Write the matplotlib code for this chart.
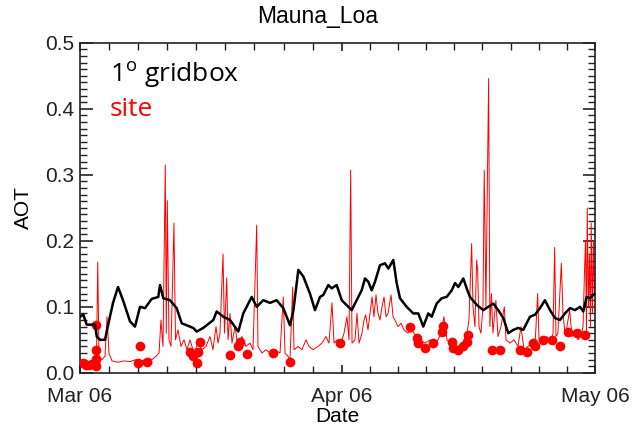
import numpy as np
import matplotlib
matplotlib.use("Agg")
import matplotlib.pyplot as plt

plt.rcParams['font.family'] = ['Liberation Sans', 'DejaVu Sans']
plt.rcParams['mathtext.fontset'] = 'custom'
plt.rcParams['mathtext.rm'] = 'Open Sans'

# days since 1 Mar 2006
grid_day = [0.00, 0.39, 0.79, 1.78, 1.98, 2.37, 2.96, 3.32, 3.91, 4.50, 5.09, 5.92, 6.51,
            7.11, 7.70, 8.49, 9.27, 9.48, 9.87, 10.66, 11.45, 12.05, 12.64, 13.42, 13.82,
            14.60, 15.79, 16.19, 16.97, 17.77, 18.75, 19.34, 20.34, 20.93, 21.71, 22.50,
            23.30, 24.08, 24.87, 25.26, 25.86, 26.45, 27.24, 27.83, 28.43, 28.82, 29.41,
            29.81, 30.40, 31.00, 31.78, 32.18, 32.77, 33.36, 33.76, 34.15, 34.55, 34.94,
            35.53, 36.12, 36.52, 37.11, 37.51, 37.90, 38.69, 39.48, 40.07, 40.66, 41.25,
            41.66, 42.25, 42.84, 43.43, 44.03, 44.42, 44.81, 45.40, 45.80, 46.19, 46.99,
            47.77, 48.36, 48.95, 49.54, 50.14, 50.73, 51.32, 51.91, 52.50, 53.30, 53.89,
            54.48, 55.07, 55.67, 56.26, 56.85, 57.44, 58.04, 58.63, 59.22, 59.61, 60.01,
            60.40, 60.80, 61.00]
grid_aot = [0.085, 0.088, 0.073, 0.073, 0.055, 0.050, 0.050, 0.072, 0.106, 0.130, 0.110,
            0.078, 0.070, 0.100, 0.098, 0.112, 0.115, 0.133, 0.113, 0.110, 0.098, 0.075,
            0.072, 0.068, 0.0625, 0.068, 0.080, 0.093, 0.085, 0.080, 0.0625, 0.090, 0.115,
            0.100, 0.110, 0.106, 0.110, 0.098, 0.072, 0.093, 0.156, 0.146, 0.120, 0.095,
            0.115, 0.118, 0.133, 0.128, 0.133, 0.110, 0.100, 0.095, 0.110, 0.125, 0.143,
            0.138, 0.125, 0.138, 0.163, 0.166, 0.158, 0.171, 0.136, 0.113, 0.100, 0.090,
            0.090, 0.070, 0.090, 0.085, 0.105, 0.113, 0.115, 0.125, 0.136, 0.130, 0.143,
            0.128, 0.115, 0.103, 0.095, 0.100, 0.105, 0.095, 0.083, 0.060, 0.065, 0.068,
            0.065, 0.085, 0.088, 0.098, 0.110, 0.095, 0.083, 0.080, 0.090, 0.098, 0.095,
            0.100, 0.093, 0.115, 0.113, 0.118, 0.120]

site_day = [0.00, 0.36, 0.71, 1.18, 1.66, 1.95, 2.10, 2.25, 2.61, 2.96, 3.20, 3.43, 3.79,
            4.50, 5.21, 5.92, 6.63, 7.34, 8.05, 8.53, 9.00, 9.36, 9.59, 9.83, 10.10, 10.22,
            10.34, 10.54, 10.78, 11.13, 11.31, 11.61, 11.96, 12.32, 12.67, 13.03, 13.50,
            13.98, 14.45, 14.92, 15.40, 15.75, 16.11, 16.35, 16.58, 16.94, 17.11, 17.38,
            17.53, 17.77, 18.00, 18.36, 18.71, 19.19, 19.66, 20.13, 20.49, 20.93, 21.08,
            21.56, 22.03, 22.50, 23.10, 23.69, 24.08, 24.28, 24.64, 24.87, 25.19, 25.35,
            25.82, 26.29, 26.77, 27.12, 27.60, 28.19, 28.66, 29.14, 29.49, 29.85, 30.09,
            30.44, 30.91, 31.27, 31.62, 31.86, 32.06, 32.22, 32.57, 32.81, 33.05, 33.40,
            33.64, 33.84, 34.11, 34.35, 34.59, 34.82, 35.06, 35.30, 35.53, 35.77, 36.01,
            36.25, 36.48, 36.84, 37.08, 37.31, 37.67, 38.02, 38.38, 38.85, 39.32, 39.80,
            40.27, 40.86, 41.45, 41.93, 42.40, 42.76, 43.11, 43.47, 43.82, 44.42, 45.01,
            45.48, 45.84, 46.07, 46.39, 46.55, 46.78, 46.98, 47.10, 47.26, 47.49, 47.73,
            47.88, 48.08, 48.40, 48.55, 48.73, 48.91, 49.26, 49.51, 49.86, 50.26, 50.46,
            50.93, 51.40, 51.88, 52.23, 52.59, 53.06, 53.54, 53.89, 54.21, 54.37, 54.84,
            55.31, 55.79, 56.03, 56.22, 56.38, 56.61, 57.01, 57.21, 57.44, 57.68, 58.00,
            58.27, 58.63, 58.98, 59.34, 59.58, 59.75, 59.87, 59.99, 60.08, 60.22, 60.34,
            60.46, 60.55, 60.70, 60.81, 60.93]
site_aot = [0.020, 0.013, 0.012, 0.014, 0.016, 0.020, 0.168, 0.025, 0.020, 0.025, 0.085,
            0.030, 0.018, 0.016, 0.018, 0.017, 0.020, 0.018, 0.022, 0.020, 0.025, 0.030,
            0.080, 0.040, 0.315, 0.060, 0.261, 0.050, 0.040, 0.227, 0.050, 0.065, 0.040,
            0.050, 0.035, 0.050, 0.030, 0.045, 0.035, 0.040, 0.055, 0.035, 0.070, 0.045,
            0.060, 0.180, 0.060, 0.144, 0.050, 0.090, 0.045, 0.070, 0.040, 0.055, 0.040,
            0.045, 0.035, 0.224, 0.040, 0.030, 0.035, 0.030, 0.035, 0.030, 0.115, 0.030,
            0.025, 0.020, 0.130, 0.035, 0.040, 0.035, 0.050, 0.040, 0.035, 0.040, 0.045,
            0.055, 0.045, 0.106, 0.045, 0.050, 0.045, 0.060, 0.085, 0.050, 0.307, 0.045,
            0.050, 0.090, 0.045, 0.060, 0.080, 0.088, 0.065, 0.090, 0.115, 0.085, 0.118,
            0.090, 0.080, 0.100, 0.115, 0.085, 0.090, 0.118, 0.085, 0.080, 0.070, 0.075,
            0.065, 0.060, 0.065, 0.055, 0.050, 0.045, 0.050, 0.045, 0.050, 0.060, 0.085,
            0.050, 0.045, 0.040, 0.035, 0.050, 0.060, 0.080, 0.196, 0.100, 0.070, 0.171,
            0.156, 0.070, 0.060, 0.100, 0.307, 0.100, 0.446, 0.070, 0.120, 0.060, 0.110,
            0.055, 0.070, 0.100, 0.050, 0.045, 0.050, 0.040, 0.070, 0.035, 0.040, 0.045,
            0.040, 0.120, 0.050, 0.045, 0.055, 0.045, 0.060, 0.190, 0.055, 0.060, 0.166,
            0.090, 0.060, 0.070, 0.095, 0.055, 0.060, 0.050, 0.055, 0.070, 0.150, 0.200,
            0.060, 0.250, 0.100, 0.180, 0.070, 0.227, 0.090, 0.200, 0.120]

# daily site means
daily_day = [0.36, 0.71, 1.07, 1.42, 1.78, 1.95, 1.95, 1.95, 1.95, 6.91, 7.11, 7.90, 13.03,
             13.42, 13.82, 14.01, 14.21, 17.77, 18.75, 18.95, 19.74, 22.89, 24.87, 30.79,
             39.09, 39.88, 40.03, 40.86, 41.84, 42.84, 43.03, 44.03, 44.22, 44.81, 45.40,
             45.80, 45.99, 48.76, 49.74, 52.11, 52.91, 53.69, 53.89, 54.87, 55.87, 56.85,
             57.84, 58.83, 59.81]
daily_aot = [0.015, 0.012, 0.012, 0.013, 0.015, 0.010, 0.021, 0.035, 0.073, 0.015, 0.040,
             0.017, 0.032, 0.025, 0.015, 0.032, 0.047, 0.027, 0.040, 0.047, 0.029, 0.030,
             0.016, 0.045, 0.070, 0.052, 0.045, 0.037, 0.045, 0.0625, 0.071, 0.047, 0.037,
             0.035, 0.040, 0.047, 0.057, 0.035, 0.035, 0.035, 0.032, 0.045, 0.040, 0.050,
             0.050, 0.040, 0.0625, 0.061, 0.057]

month_ticks = [0, 31, 61]
month_labels = ['Mar 06', 'Apr 06', 'May 06']

fig = plt.figure(figsize=(6.35, 4.29), dpi=100)
ax = fig.add_axes([0.126, 0.131, 0.811, 0.769])

ax.plot(site_day, site_aot, color='red', lw=0.7, zorder=2)
ax.plot(daily_day, daily_aot, 'o', color='red', ms=7, mec='none', zorder=3)
ax.plot(grid_day, grid_aot, color='black', lw=1.8, zorder=4)

ax.set_xlim(0, 61)
ax.set_ylim(0, 0.495)
ax.set_xticks(month_ticks)
ax.set_xticklabels(month_labels)
ax.set_xticks(np.concatenate([np.linspace(0, 31, 10), np.linspace(31, 61, 10)]), minor=True)
ax.set_yticks([0.0, 0.1, 0.2, 0.3, 0.4, 0.5])
ax.set_yticklabels(['0.0', '0.1', '0.2', '0.3', '0.4', '0.5'])
ax.set_yticks(np.arange(0, 0.5, 0.01), minor=True)

ax.tick_params(axis='both', which='both', direction='in', top=True, right=True,
               labelsize=15, colors='#222222')
ax.tick_params(axis='y', which='major', length=9, width=1.2, pad=4)
ax.tick_params(axis='y', which='minor', length=5, width=1.0)
ax.tick_params(axis='x', which='major', length=6, width=1.2, pad=10)
ax.tick_params(axis='x', which='minor', length=5, width=1.0)
for sp in ax.spines.values():
    sp.set_linewidth(1.2)
    sp.set_color('#222222')

ax.set_xlabel('Date', fontsize=15, labelpad=1)
ax.set_ylabel('AOT', fontsize=15, labelpad=9)
fig.text(0.5, 0.962, 'Mauna_Loa', ha='center', va='center', fontsize=16.5)

ax.text(0.058, 0.883, r'1$^{\mathrm{o}}$ gridbox', transform=ax.transAxes,
        fontsize=19, family='Open Sans', color='black', va='baseline')
ax.text(0.058, 0.779, 'site', transform=ax.transAxes,
        fontsize=19, family='Open Sans', color='red', va='baseline')

fig.savefig('out.png', dpi=100)
